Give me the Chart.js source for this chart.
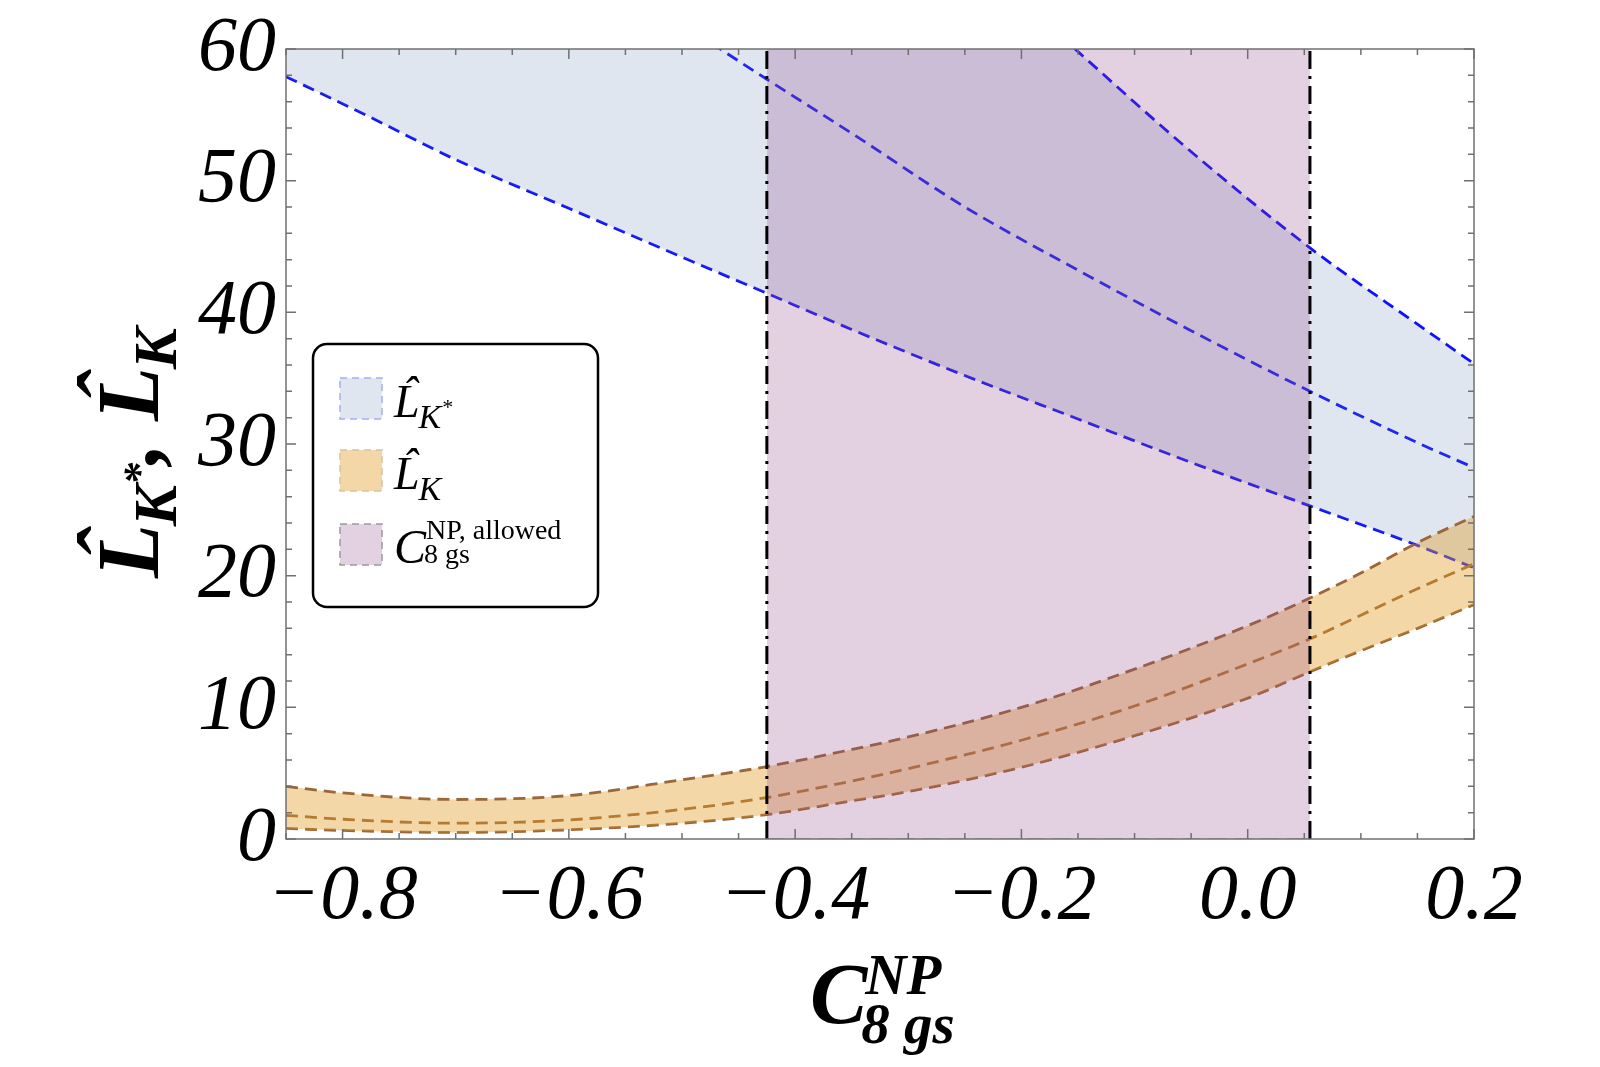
<!DOCTYPE html>
<html>
<head>
<meta charset="utf-8">
<script src="https://cdn.jsdelivr.net/npm/chart.js@4.4.0/dist/chart.umd.min.js"></script>
<style>
    html, body { margin: 0; padding: 0; background: #fff; }
    canvas { display: block; }
</style>
</head>
<body>
<canvas id="myChart" width="1600" height="1067"></canvas>
<script>
// axis ranges and tick labels
const xRange = [-0.85, 0.2];
const yRange = [0, 60];
const xTicks = [-0.8, -0.6, -0.4, -0.2, 0.0, 0.2];
const yTicks = [0, 10, 20, 30, 40, 50, 60];

// L_K* band (values above 60 run off the top of the frame)
const kstarX     = [-0.85, -0.775, -0.70, -0.60, -0.50, -0.425, -0.35, -0.25, -0.15, -0.05, 0.055, 0.15, 0.20];
const kstarUpper = [118.5, 112.0, 105.5, 97.0, 88.5, 82.0, 75.8, 67.6, 59.8, 52.2, 44.9, 39.1, 36.1];
const kstarMid   = [82.2, 77.8, 73.4, 67.6, 61.9, 57.7, 53.6, 48.0, 43.2, 38.6, 34.0, 30.1, 28.2];
const kstarLower = [57.9, 54.8, 51.6, 47.9, 44.2, 41.45, 38.7, 35.2, 31.9, 28.6, 25.3, 22.3, 20.6];

// L_K band
const kX     = [-0.85, -0.80, -0.70, -0.60, -0.50, -0.425, -0.35, -0.30, -0.20, -0.10, 0.0, 0.055, 0.10, 0.15, 0.20];
const kUpper = [4.0, 3.5, 3.0, 3.3, 4.5, 5.5, 6.8, 7.75, 10.0, 12.9, 16.2, 18.3, 20.2, 22.5, 24.5];
const kMid   = [1.8, 1.5, 1.2, 1.45, 2.25, 3.15, 4.4, 5.35, 7.5, 10.1, 13.3, 15.2, 17.0, 19.0, 20.9];
const kLower = [0.8, 0.65, 0.5, 0.7, 1.2, 1.85, 2.9, 3.6, 5.45, 7.85, 10.7, 12.7, 14.3, 16.0, 17.8];

// allowed C8gs^NP window
const allowedRange = [-0.425, 0.055];

const blueFill = 'rgba(94, 129, 181, 0.2)';
const orangeFill = 'rgba(224, 156, 36, 0.4)';
const purpleFill = 'rgba(143, 69, 135, 0.25)';
const blueLine = '#1010ff';
const brownLine = '#9a663a';

const serif = '"Liberation Serif", "Times New Roman", serif';

function toPoints(xs, ys) {
    return xs.map((x, i) => ({ x: x, y: ys[i] }));
}

function dashed(label, xs, ys, color, extra) {
    return Object.assign({
        label: label,
        data: toPoints(xs, ys),
        borderColor: color,
        borderWidth: 2.8,
        borderDash: [12, 7],
        pointRadius: 0,
        cubicInterpolationMode: 'monotone',
        fill: false
    }, extra || {});
}

// draw an L with a hat above it, returns advance width
function hatL(ctx, x, y, size, weight) {
    ctx.font = 'italic ' + weight + ' ' + size + 'px ' + serif;
    ctx.textAlign = 'left';
    ctx.fillText('L', x, y);
    const w = ctx.measureText('L').width;
    ctx.textAlign = 'center';
    ctx.fillText('\u02C6', x + w * 0.62, y - size * 0.2);
    ctx.textAlign = 'left';
    return w;
}

function textRun(ctx, str, x, y, font) {
    ctx.font = font;
    ctx.textAlign = 'left';
    ctx.fillText(str, x, y);
    return ctx.measureText(str).width;
}

// frame, inside ticks, axis titles and legend
const decorPlugin = {
    id: 'decor',
    afterDraw(chart) {
        const { ctx, chartArea: a, scales } = chart;
        const xs = scales.x, ys = scales.y;
        ctx.save();

        // frame
        ctx.strokeStyle = '#707070';
        ctx.lineWidth = 1.5;
        ctx.setLineDash([]);
        ctx.strokeRect(a.left, a.top, a.right - a.left, a.bottom - a.top);

        // x ticks every 0.05, long ones on the labels
        ctx.beginPath();
        for (let i = -17; i <= 4; i++) {
            const px = xs.getPixelForValue(i * 0.05);
            const len = (i % 4 === 0) ? 10 : 6;
            ctx.moveTo(px, a.bottom); ctx.lineTo(px, a.bottom - len);
            ctx.moveTo(px, a.top); ctx.lineTo(px, a.top + len);
        }
        // y ticks every 2
        for (let v = 0; v <= 60; v += 2) {
            const py = ys.getPixelForValue(v);
            const len = (v % 10 === 0) ? 10 : 6;
            ctx.moveTo(a.left, py); ctx.lineTo(a.left + len, py);
            ctx.moveTo(a.right, py); ctx.lineTo(a.right - len, py);
        }
        ctx.stroke();

        ctx.fillStyle = '#000';
        ctx.textBaseline = 'alphabetic';

        // x title: C^{NP}_{8 gs}
        const cx0 = (a.left + a.right) / 2 - 70;
        const cw = textRun(ctx, 'C', cx0, 1023, 'italic bold 86px ' + serif);
        textRun(ctx, 'NP', cx0 + cw - 2, 994, 'italic bold 57px ' + serif);
        textRun(ctx, '8 gs', cx0 + cw - 6, 1043, 'italic bold 57px ' + serif);

        // y title: L_{K*}, L_K rotated
        ctx.save();
        ctx.translate(158, (a.top + a.bottom) / 2);
        ctx.rotate(-Math.PI / 2);
        let tx = -134;
        tx += hatL(ctx, tx, 0, 88, 'bold');
        const kw = textRun(ctx, 'K', tx - 2, 18, 'italic bold 62px ' + serif);
        textRun(ctx, '*', tx + kw - 2, -4, 'italic bold 44px ' + serif);
        tx += kw + 18;
        tx += textRun(ctx, ', ', tx, 0, 'italic bold 88px ' + serif);
        tx += hatL(ctx, tx, 0, 88, 'bold');
        textRun(ctx, 'K', tx - 2, 18, 'italic bold 62px ' + serif);
        ctx.restore();

        // legend box
        ctx.setLineDash([]);
        ctx.strokeStyle = '#000';
        ctx.lineWidth = 2.5;
        ctx.beginPath();
        ctx.roundRect(313, 344, 285, 263, 14);
        ctx.fillStyle = '#fff';
        ctx.fill();
        ctx.stroke();

        const swatches = [
            { y: 378, fill: blueFill, edge: '#a8b0ea' },
            { y: 450, fill: orangeFill, edge: '#d8c2a4' },
            { y: 524, fill: purpleFill, edge: '#9a9a9a' }
        ];
        swatches.forEach(s => {
            ctx.fillStyle = s.fill;
            ctx.fillRect(340, s.y, 42, 41);
            ctx.strokeStyle = s.edge;
            ctx.lineWidth = 1.5;
            ctx.setLineDash([7, 5]);
            ctx.strokeRect(340, s.y, 42, 41);
        });
        ctx.setLineDash([]);
        ctx.fillStyle = '#000';

        let lx = 394;
        lx += hatL(ctx, lx, 417, 46, 'normal');
        const k1 = textRun(ctx, 'K', lx - 1, 428, 'italic 34px ' + serif);
        textRun(ctx, '*', lx + k1 - 1, 414, 'italic 22px ' + serif);

        lx = 394;
        lx += hatL(ctx, lx, 489, 46, 'normal');
        textRun(ctx, 'K', lx - 1, 500, 'italic 34px ' + serif);

        const c3 = textRun(ctx, 'C', 394, 563, 'italic 48px ' + serif);
        textRun(ctx, 'NP, allowed', 394 + c3, 539, '28px ' + serif);
        textRun(ctx, '8 gs', 394 + c3 - 2, 563, '28px ' + serif);

        ctx.restore();
    }
};

const datasets = [
    // allowed window edges (on top)
    {
        label: 'left edge',
        data: [{ x: allowedRange[0], y: yRange[0] }, { x: allowedRange[0], y: yRange[1] }],
        borderColor: '#000', borderWidth: 3, borderDash: [18, 7, 3, 7],
        pointRadius: 0, fill: false, order: 0
    },
    {
        label: 'right edge',
        data: [{ x: allowedRange[1], y: yRange[0] }, { x: allowedRange[1], y: yRange[1] }],
        borderColor: '#000', borderWidth: 3, borderDash: [18, 7, 3, 7],
        pointRadius: 0, fill: false, order: 0
    },
    // allowed window shading
    {
        label: 'C8gs allowed',
        data: [{ x: allowedRange[0], y: yRange[0] }, { x: allowedRange[1], y: yRange[0] }],
        borderColor: '#9a9a9a', borderWidth: 1.5, borderDash: [18, 8],
        backgroundColor: purpleFill, pointRadius: 0, fill: 'end', order: 1
    },
    // L_K* band
    dashed('LKstar upper', kstarX, kstarUpper, blueLine, { fill: { target: 5 }, backgroundColor: blueFill, order: 3 }),
    dashed('LKstar mid', kstarX, kstarMid, blueLine, { order: 3 }),
    dashed('LKstar lower', kstarX, kstarLower, blueLine, { order: 3 }),
    // L_K band
    dashed('LK upper', kX, kUpper, brownLine, { fill: { target: 8 }, backgroundColor: orangeFill, order: 2 }),
    dashed('LK mid', kX, kMid, brownLine, { order: 2 }),
    dashed('LK lower', kX, kLower, brownLine, { order: 2 })
];

const ctx = document.getElementById('myChart').getContext('2d');
const myChart = new Chart(ctx, {
    type: 'line',
    data: { datasets: datasets },
    options: {
        responsive: false,
        animation: false,
        events: [],
        layout: { padding: { left: 0, top: 46, right: 126, bottom: 0 } },
        plugins: { legend: { display: false }, tooltip: { enabled: false } },
        scales: {
            x: {
                type: 'linear',
                min: xRange[0],
                max: xRange[1],
                afterBuildTicks: s => { s.ticks = xTicks.map(v => ({ value: v })); },
                afterFit: s => { s.height = 228; },
                grid: { display: false, drawTicks: false },
                border: { display: false },
                ticks: {
                    padding: 12,
                    color: '#000',
                    maxRotation: 0,
                    autoSkip: false,
                    font: { family: serif, size: 78, style: 'italic' },
                    callback: v => (v < 0 ? '\u2212' : '') + Math.abs(v).toFixed(1)
                }
            },
            y: {
                type: 'linear',
                min: yRange[0],
                max: yRange[1],
                afterBuildTicks: s => { s.ticks = yTicks.map(v => ({ value: v })); },
                afterFit: s => { s.width = 286; },
                grid: { display: false, drawTicks: false },
                border: { display: false },
                ticks: {
                    padding: 10,
                    color: '#000',
                    autoSkip: false,
                    font: { family: serif, size: 78, style: 'italic', lineHeight: 1 },
                    callback: v => String(v)
                }
            }
        }
    },
    plugins: [decorPlugin]
});
</script>
</body>
</html>
